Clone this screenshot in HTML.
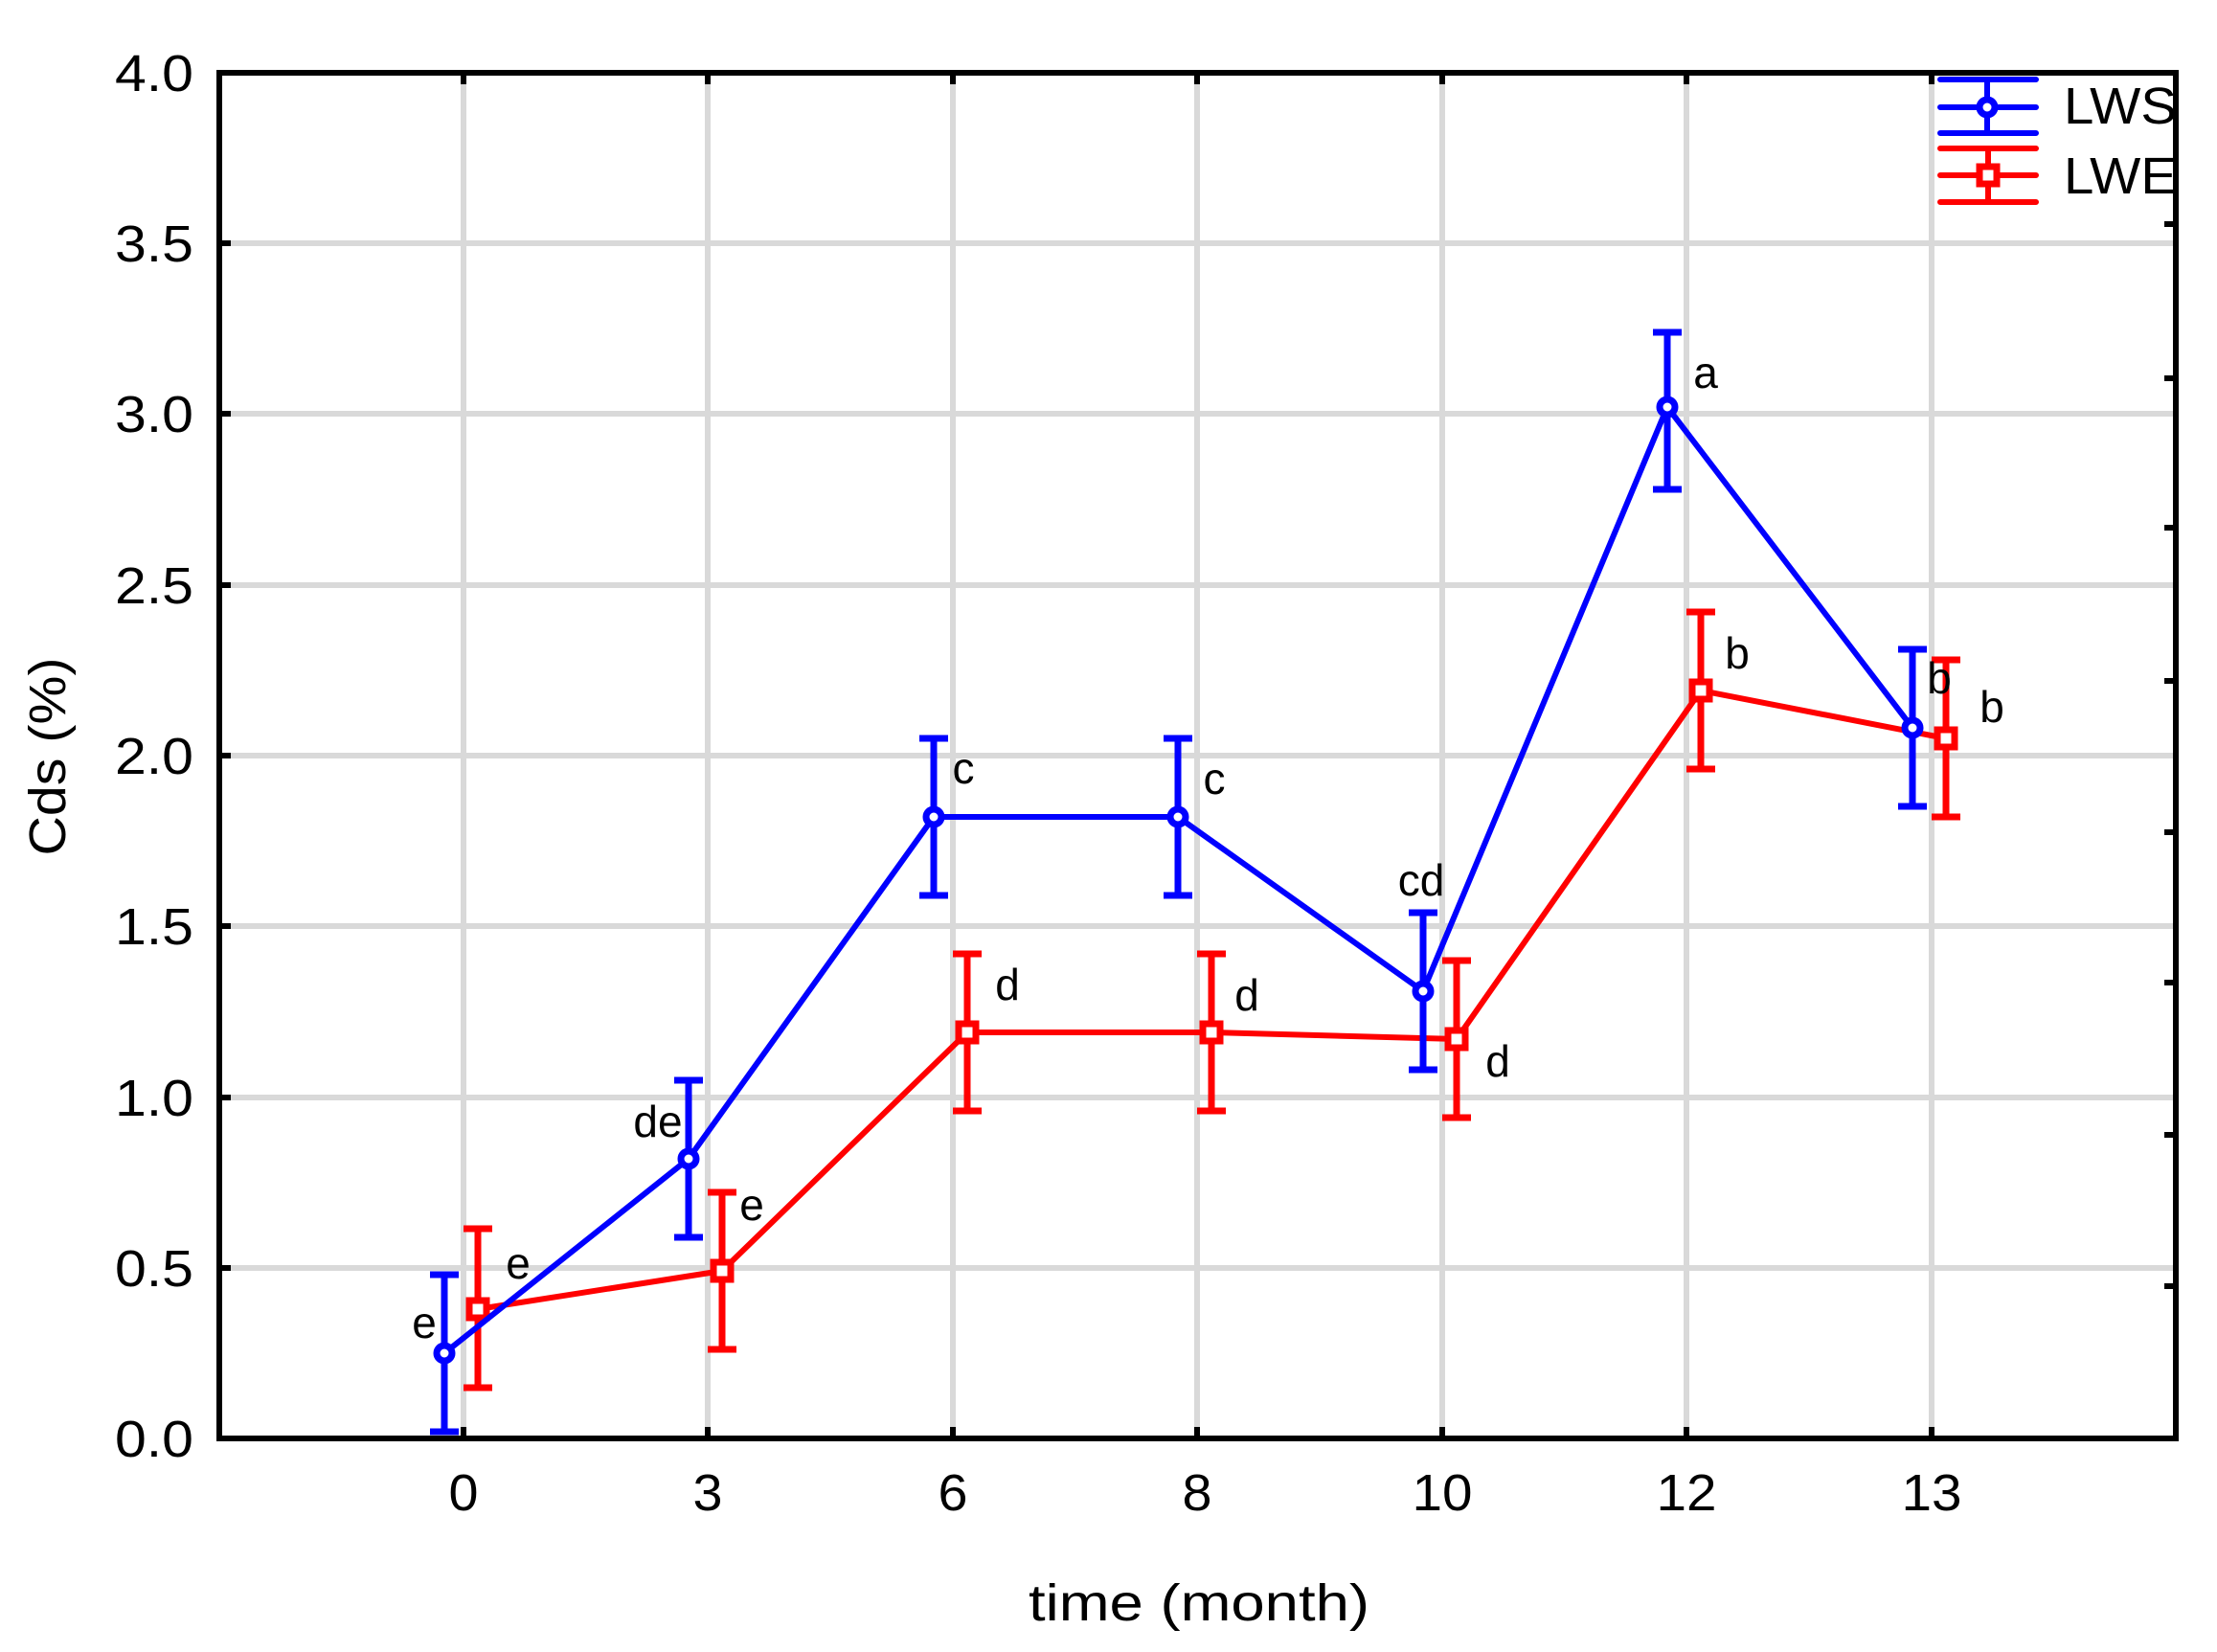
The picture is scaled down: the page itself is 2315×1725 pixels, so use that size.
<!DOCTYPE html>
<html><head><meta charset="utf-8"><style>html,body{margin:0;padding:0;background:#fff}svg{display:block}</style></head>
<body>
<svg width="2315" height="1725" viewBox="0 0 2315 1725" xmlns="http://www.w3.org/2000/svg" font-family="Liberation Sans, Arial, sans-serif">
<defs><clipPath id="pc"><rect x="229" y="76" width="2043" height="1426"/></clipPath></defs>
<rect width="2315" height="1725" fill="#fff"/>
<g stroke="#d9d9d9" stroke-width="6">
<line x1="229" y1="1324" x2="2272" y2="1324"/><line x1="229" y1="1146" x2="2272" y2="1146"/>
<line x1="229" y1="967" x2="2272" y2="967"/><line x1="229" y1="789" x2="2272" y2="789"/>
<line x1="229" y1="611" x2="2272" y2="611"/><line x1="229" y1="432" x2="2272" y2="432"/>
<line x1="229" y1="254" x2="2272" y2="254"/>
<line x1="484" y1="76" x2="484" y2="1502"/><line x1="739" y1="76" x2="739" y2="1502"/>
<line x1="995" y1="76" x2="995" y2="1502"/><line x1="1250" y1="76" x2="1250" y2="1502"/>
<line x1="1506" y1="76" x2="1506" y2="1502"/><line x1="1761" y1="76" x2="1761" y2="1502"/>
<line x1="2017" y1="76" x2="2017" y2="1502"/>
</g>
<g stroke="#000" stroke-width="6">
<path d="M229 1324h12M229 1146h12M229 967h12M229 789h12M229 611h12M229 432h12M229 254h12"/>
<path d="M484 1502v-12M739 1502v-12M995 1502v-12M1250 1502v-12M1506 1502v-12M1761 1502v-12M2017 1502v-12"/>
<path d="M484 76v12M739 76v12M995 76v12M1250 76v12M1506 76v12M1761 76v12M2017 76v12"/>
<path d="M2272 234h-12M2272 395h-12M2272 551h-12M2272 711h-12M2272 869h-12M2272 1026h-12M2272 1185h-12M2272 1343h-12"/>
</g>
<g stroke="#ff0000" stroke-width="7" fill="none">
<polyline stroke-width="6" points="499,1367 754,1327 1010,1078 1265,1078 1521,1085 1776,721 2032,771"/>
<path d="M499 1283V1449M484 1283h30M484 1449h30"/>
<path d="M754 1245V1409M739 1245h30M739 1409h30"/>
<path d="M1010 996V1160M995 996h30M995 1160h30"/>
<path d="M1265 996V1160M1250 996h30M1250 1160h30"/>
<path d="M1521 1003V1167M1506 1003h30M1506 1167h30"/>
<path d="M1776 639V803M1761 639h30M1761 803h30"/>
<path d="M2032 689V853M2017 689h30M2017 853h30"/>
<g fill="#fff"><rect x="490" y="1358" width="18" height="18"/><rect x="745" y="1318" width="18" height="18"/><rect x="1001" y="1069" width="18" height="18"/><rect x="1256" y="1069" width="18" height="18"/><rect x="1512" y="1076" width="18" height="18"/><rect x="1767" y="712" width="18" height="18"/><rect x="2023" y="762" width="18" height="18"/></g>
</g>
<g stroke="#0000ff" stroke-width="7" fill="none">
<polyline stroke-width="6" points="464,1413 719,1210 975,853 1230,853 1486,1035 1741,425 1997,760"/>
<path d="M464 1331V1495M449 1331h30M449 1495h30"/>
<path d="M719 1128V1292M704 1128h30M704 1292h30"/>
<path d="M975 771V935M960 771h30M960 935h30"/>
<path d="M1230 771V935M1215 771h30M1215 935h30"/>
<path d="M1486 953V1117M1471 953h30M1471 1117h30"/>
<path d="M1741 347V511M1726 347h30M1726 511h30"/>
<path d="M1997 678V842M1982 678h30M1982 842h30"/>
<g fill="#fff"><circle cx="464" cy="1413" r="8"/><circle cx="719" cy="1210" r="8"/><circle cx="975" cy="853" r="8"/><circle cx="1230" cy="853" r="8"/><circle cx="1486" cy="1035" r="8"/><circle cx="1741" cy="425" r="8"/><circle cx="1997" cy="760" r="8"/></g>
</g>
<g font-size="46" fill="#000" text-anchor="middle">
<text x="443" y="1397">e</text><text x="687" y="1187">de</text><text x="1006" y="818">c</text><text x="1268" y="829">c</text><text x="1484" y="935">cd</text><text x="1781" y="405">a</text><text x="2025" y="724">b</text>
<text x="541" y="1335">e</text><text x="785" y="1274">e</text><text x="1052" y="1044">d</text><text x="1302" y="1055">d</text><text x="1564" y="1124">d</text><text x="1814" y="698">b</text><text x="2080" y="754">b</text>
</g>
<g stroke-width="6" fill="none" stroke-linecap="round">
<g stroke="#0000ff"><path d="M2026 83h100M2026 112h100M2026 139h100M2075 83V139"/><circle cx="2075" cy="112" r="8" fill="#fff" stroke-width="7"/></g>
<g stroke="#ff0000"><path d="M2026 155h100M2026 183h100M2026 211h100M2076 155V211"/><rect x="2067" y="174" width="18" height="18" fill="#fff" stroke-width="7"/></g>
</g>
<g clip-path="url(#pc)" font-size="54" fill="#000"><text x="2155" y="129" textLength="118" lengthAdjust="spacingAndGlyphs">LWS</text><text x="2155" y="202" textLength="118" lengthAdjust="spacingAndGlyphs">LWE</text></g>
<rect x="229" y="76" width="2043" height="1426" fill="none" stroke="#000" stroke-width="6"/>
<g font-size="54" fill="#000" text-anchor="end" lengthAdjust="spacingAndGlyphs">
<text x="202" y="95" textLength="82" lengthAdjust="spacingAndGlyphs">4.0</text><text x="202" y="273" textLength="82" lengthAdjust="spacingAndGlyphs">3.5</text><text x="202" y="451" textLength="82" lengthAdjust="spacingAndGlyphs">3.0</text><text x="202" y="630" textLength="82" lengthAdjust="spacingAndGlyphs">2.5</text><text x="202" y="808" textLength="82" lengthAdjust="spacingAndGlyphs">2.0</text><text x="202" y="986" textLength="82" lengthAdjust="spacingAndGlyphs">1.5</text><text x="202" y="1165" textLength="82" lengthAdjust="spacingAndGlyphs">1.0</text><text x="202" y="1343" textLength="82" lengthAdjust="spacingAndGlyphs">0.5</text><text x="202" y="1521" textLength="82" lengthAdjust="spacingAndGlyphs">0.0</text>
</g>
<g font-size="54" fill="#000" text-anchor="middle">
<text x="484" y="1577" textLength="31" lengthAdjust="spacingAndGlyphs">0</text><text x="739" y="1577" textLength="31" lengthAdjust="spacingAndGlyphs">3</text><text x="995" y="1577" textLength="31" lengthAdjust="spacingAndGlyphs">6</text><text x="1250" y="1577" textLength="31" lengthAdjust="spacingAndGlyphs">8</text><text x="1506" y="1577" textLength="63" lengthAdjust="spacingAndGlyphs">10</text><text x="1761" y="1577" textLength="63" lengthAdjust="spacingAndGlyphs">12</text><text x="2017" y="1577" textLength="63" lengthAdjust="spacingAndGlyphs">13</text>
<text x="1252" y="1692" textLength="356" lengthAdjust="spacingAndGlyphs">time (month)</text>
<text transform="translate(68,790) rotate(-90)" textLength="207" lengthAdjust="spacingAndGlyphs">Cds (%)</text>
</g>
</svg>
</body></html>
